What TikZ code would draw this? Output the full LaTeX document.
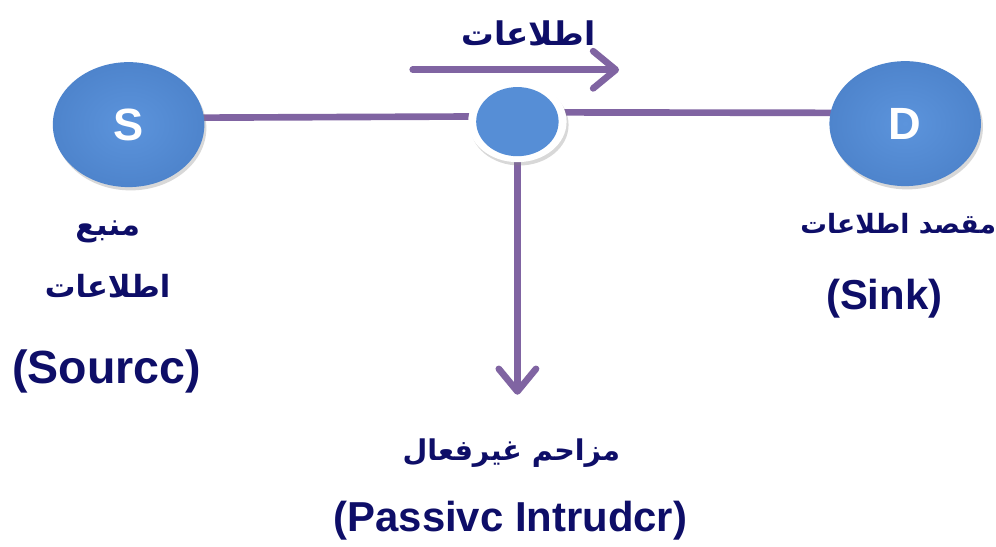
\documentclass[tikz,border=0pt]{standalone}
\usepackage{fontspec}
\setmainfont{Liberation Sans}
\newfontfamily\arabicfont[Script=Arabic]{DejaVu Sans}
\TeXXeTstate=1
\usetikzlibrary{shapes.geometric,arrows.meta,shadows,calc}
\definecolor{navy}{RGB}{14,14,104}
\definecolor{linkpurple}{RGB}{128,100,162}
\definecolor{nodeblue}{RGB}{86,142,214}
\definecolor{nodeblueD}{RGB}{78,132,204}
\definecolor{nodeblueL}{RGB}{92,148,220}
\pgfdeclarelayer{bg}
\pgfsetlayers{bg,main}
\begin{document}
\begin{tikzpicture}[x=0.75pt,y=-0.75pt,
  link/.style={draw=linkpurple,line width=5pt,line cap=round},
  barb/.style={-{Straight Barb[length=17pt,width=28pt,line cap=round,line join=round]}},
  party/.style={ellipse,inner sep=0pt,minimum width=114pt,minimum height=94pt,
    inner color=nodeblueL,outer color=nodeblueD,
    drop shadow={shadow xshift=1.5pt,shadow yshift=-2.5pt,opacity=0.3},
    text=white,font=\bfseries\fontsize{34}{36}\selectfont},
  tapring/.style={ellipse,inner sep=0pt,minimum width=74pt,minimum height=61pt,fill=white,
    drop shadow={shadow xshift=1.5pt,shadow yshift=-2.5pt,opacity=0.3}},
  tapcore/.style={ellipse,inner sep=0pt,minimum width=62pt,minimum height=52pt,fill=nodeblue},
  ar/.style={text=navy,font=\arabicfont\bfseries\fontsize{23}{28}\selectfont,inner sep=0pt},
  lat/.style={text=navy,font=\bfseries\fontsize{31.5}{36}\selectfont,inner sep=0pt}
]
\begin{pgfonlayer}{bg}
\useasboundingbox[fill=white] (0,0) rectangle (996,548);
\end{pgfonlayer}

\node[party] (S) at (129,125) {S};
\node[party] (D) at (908,124) {D};
\node[tapring] (M) at (519,122) {};
\node[tapcore] (Mc) at (519,122) {};

\coordinate (A1) at (414,70);
\coordinate (A2) at (621,70);
\coordinate (V) at (519,396);

\begin{pgfonlayer}{bg}
  \draw[link] ([yshift=5pt]S.center) -- ([yshift=4pt]M.center);
  \draw[link] ([yshift=7pt]M.center) -- ([yshift=8pt]D.center);
  \draw[link,barb] (M.center) -- (V);
\end{pgfonlayer}
\draw[link,barb] (A1) -- (A2);

\node[ar,font=\arabicfont\bfseries\fontsize{24.5}{28}\selectfont] (tInfo) at (530,33) {\beginR اطلاعات\endR};
\node[ar] (tS1) at (108,233) {\beginR منبع\endR};
\node[ar] (tS2) at (108,287) {\beginR اطلاعات\endR};
\node[lat,font=\bfseries\fontsize{35}{40}\selectfont] (tS3) at (107,373) {(Sourcc)};
\node[ar,font=\arabicfont\bfseries\fontsize{20}{24}\selectfont] (tD1) at (901,224) {\beginR مقصد اطلاعات\endR};
\node[lat] (tD2) at (887,300) {(Sink)};
\node[ar,font=\arabicfont\bfseries\fontsize{21.5}{26}\selectfont] (tM1) at (513,455) {\beginR مزاحم غیرفعال\endR};
\node[lat] (tM2) at (512,522) {(Passivc Intrudcr)};
\end{tikzpicture}
\end{document}
